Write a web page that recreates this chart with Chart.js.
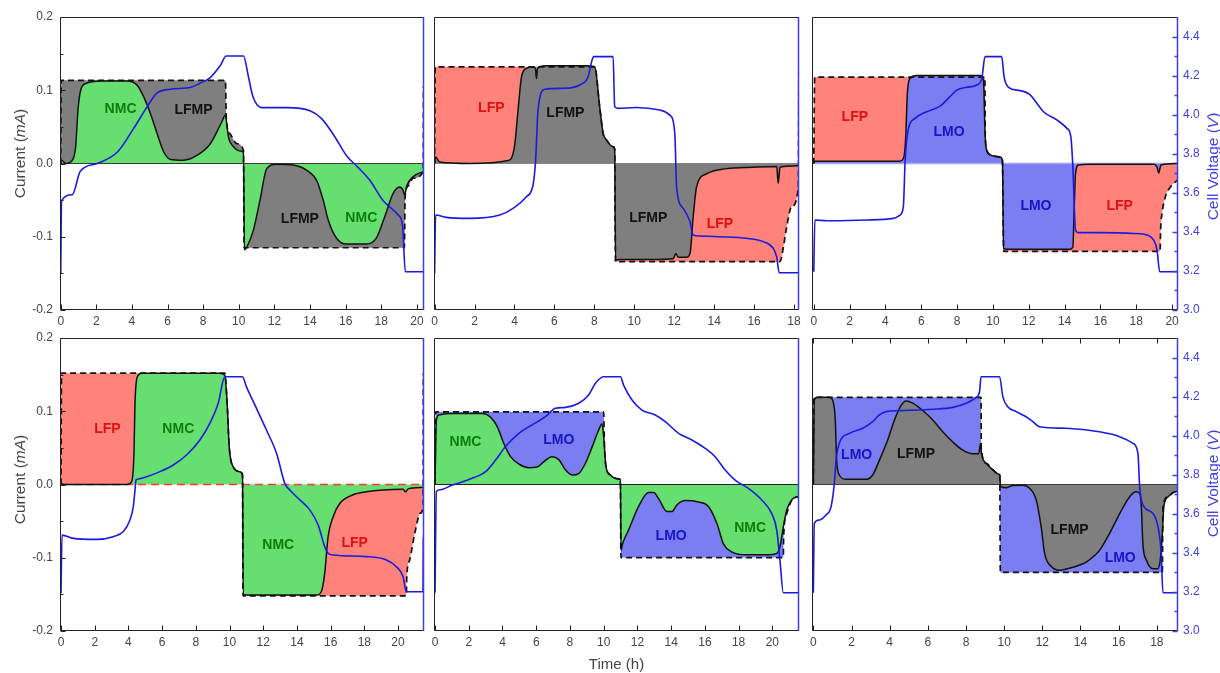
<!DOCTYPE html>
<html>
<head>
<meta charset="utf-8">
<script src="https://cdn.jsdelivr.net/npm/chart.js@4.4.1/dist/chart.umd.min.js"></script>
<style>
  html, body { margin: 0; padding: 0; background: #fff; }
  #fig { position: relative; width: 1220px; height: 673px; overflow: hidden; }
  #fig canvas { position: absolute; }
</style>
</head>
<body>
<div id="fig"></div>
<script>
/* ---- axis ticks ---- */
const currentTicks = [-0.2, -0.1, 0, 0.1, 0.2];
const currentLabels = ['-0.2', '-0.1', '0.0', '0.1', '0.2'];
const currentMinor = [-0.15, -0.05, 0.05, 0.15];
const voltTicks = [3.0, 3.2, 3.4, 3.6, 3.8, 4.0, 4.2, 4.4];
const voltLabels = ['3.0', '3.2', '3.4', '3.6', '3.8', '4.0', '4.2', '4.4'];
const voltMinor = [3.1, 3.3, 3.5, 3.7, 3.9, 4.1, 4.3];
const xTicks20 = [0, 2, 4, 6, 8, 10, 12, 14, 16, 18, 20];
const xTicks18 = [0, 2, 4, 6, 8, 10, 12, 14, 16, 18];

/* ---- panel 1: NMC + LFMP ---- */
const p1CompT = [0,0.05,0.3,0.6,0.84,0.97,1.12,1.4,2.24,3.73,4.29,4.66,5.04,5.41,5.78,6.16,6.9,7.65,8.4,9.05,9.24,9.42,9.7,10.07,10.26,10.32,10.45,10.82,11.19,11.57,12.13,13.06,13.8,14.37,14.74,15.02,15.49,16.04,17.16,17.72,18.19,18.66,19.03,19.22,19.31,19.44,19.78,20.37];
const p1Comp  = [0,0.004,0.0,0.003,0.023,0.073,0.1,0.109,0.1127,0.1127,0.107,0.091,0.068,0.041,0.016,0.0055,0.0045,0.011,0.027,0.057,0.066,0.036,0.023,0.017,0.015,-0.118,-0.114,-0.091,-0.05,-0.007,-0.001,-0.002,-0.009,-0.023,-0.05,-0.077,-0.102,-0.11,-0.11,-0.102,-0.073,-0.041,-0.032,-0.036,-0.043,-0.03,-0.018,-0.011];
const p1TotT  = [0,0.03,9.25,9.3,9.5,9.9,10.26,10.3,19.3,19.34,19.5,19.8,20.36,20.37];
const p1Tot   = [0,0.1136,0.1136,0.06,0.041,0.027,0.018,-0.115,-0.115,-0.045,-0.031,-0.02,-0.011,0.105];
const p1VoltT = [0,0.05,0.65,1.1,2.05,3.2,4.1,4.85,5.4,6.15,7.3,7.8,8.4,8.95,9.3,10.26,10.55,10.8,11.3,12.7,14.0,14.65,15.3,16.05,16.7,17.35,18.1,18.95,19.2,19.35,20.4];
const p1Volt  = [3.19,3.56,3.59,3.71,3.75,3.81,3.93,4.04,4.11,4.13,4.14,4.16,4.19,4.25,4.30,4.30,4.19,4.09,4.036,4.036,4.02,3.98,3.90,3.79,3.73,3.665,3.56,3.486,3.43,3.196,3.196];

/* ---- panel 2: LFMP + LFP ---- */
const p2CompT = [0,0.05,0.25,1.75,3.68,4.0,4.18,4.35,4.6,4.93,5.05,5.1,5.15,5.25,5.6,7.6,8.02,8.27,8.44,8.61,8.94,9.02,9.06,9.28,10.95,11.95,12.08,12.2,12.62,12.79,12.95,13.12,13.62,14.62,15.96,17.13,17.21,17.3,18.24];
const p2Comp  = [0,0.009,0.002,0.0,0.004,0.023,0.073,0.118,0.13,0.132,0.13,0.116,0.129,0.132,0.1335,0.1335,0.132,0.077,0.041,0.032,0.023,0.02,-0.132,-0.131,-0.131,-0.13,-0.123,-0.128,-0.128,-0.123,-0.073,-0.032,-0.014,-0.007,-0.005,-0.004,-0.027,-0.005,-0.003];
const p2TotT  = [0,0.03,8.02,8.27,8.44,8.61,8.94,9.02,9.06,17.3,17.47,17.63,17.88,18.22,18.24];
const p2Tot   = [0,0.132,0.132,0.077,0.041,0.032,0.023,0.02,-0.134,-0.134,-0.114,-0.087,-0.059,-0.032,0.128];
const p2VoltT = [0,0.05,0.58,1.75,3.26,3.93,4.6,4.93,5.06,5.18,5.52,6.43,7.27,7.69,7.86,7.97,8.94,9.02,9.19,10.11,11.28,11.78,12.03,12.12,12.45,12.79,12.95,13.29,14.29,15.63,16.46,16.96,17.13,17.26,18.25];
const p2Volt  = [3.188,3.486,3.474,3.469,3.486,3.52,3.58,3.64,3.768,4.024,4.13,4.135,4.152,4.195,4.27,4.297,4.297,4.041,4.032,4.037,4.024,3.998,3.904,3.63,3.52,3.452,3.384,3.379,3.375,3.367,3.35,3.316,3.273,3.191,3.191];

/* ---- panel 3: LMO + LFP ---- */
const p3CompT = [0,0.05,4.81,5.03,5.14,5.22,5.37,5.74,9.28,9.47,9.56,9.65,9.93,10.4,10.53,10.59,10.77,14.31,14.46,14.54,14.61,14.78,15.43,18.97,19.16,19.25,19.38,20.33];
const p3Comp  = [0,0.003,0.003,0.009,0.041,0.095,0.116,0.12,0.12,0.114,0.041,0.018,0.011,0.009,0.0045,-0.116,-0.117,-0.117,-0.114,-0.059,-0.014,-0.002,-0.001,-0.001,-0.005,-0.013,-0.002,0];
const p3TotT  = [0,0.05,9.55,9.57,9.65,9.93,10.4,10.53,10.6,19.33,19.36,19.44,19.63,19.91,20.33];
const p3Tot   = [0,0.118,0.118,0.04,0.018,0.011,0.009,0.0045,-0.12,-0.12,-0.09,-0.068,-0.045,-0.032,-0.022];
const p3VoltT = [0,0.06,0.71,2.95,4.44,4.81,5.0,5.1,5.27,5.65,6.3,7.05,7.6,7.98,8.54,9.1,9.38,9.56,10.49,10.62,10.87,11.52,12.08,12.45,12.82,13.57,14.13,14.35,14.46,14.61,14.78,15.99,17.86,18.6,18.97,19.16,19.31,20.35];
const p3Volt  = [3.196,3.461,3.457,3.461,3.469,3.486,3.529,3.768,3.922,3.981,4.015,4.044,4.092,4.126,4.14,4.152,4.186,4.297,4.297,4.195,4.14,4.123,4.101,4.058,4.015,3.973,3.93,3.887,3.734,3.41,3.396,3.396,3.392,3.384,3.358,3.307,3.196,3.196];

/* ---- panel 4: NMC + LFP ---- */
const p4CompT = [0,0.14,3.89,4.19,4.33,4.39,4.53,4.78,9.43,9.72,9.86,9.98,10.22,10.61,10.77,10.81,11.21,15.16,15.45,15.65,15.85,16.15,16.54,17.33,18.12,19.11,20.3,20.45,20.6,21.5];
const p4Comp  = [0.002,0,0,0.004,0.043,0.111,0.147,0.152,0.152,0.149,0.111,0.052,0.024,0.0175,0.013,-0.151,-0.151,-0.151,-0.146,-0.121,-0.071,-0.044,-0.026,-0.014,-0.01,-0.0075,-0.0066,-0.01,-0.006,-0.004];
const p4TotT  = [0,0.03,9.72,9.86,9.98,10.22,10.61,10.77,10.8,20.49,20.52,20.69,20.99,21.33,21.49,21.5];
const p4Tot   = [0,0.152,0.152,0.111,0.052,0.024,0.0175,0.013,-0.152,-0.152,-0.125,-0.103,-0.067,-0.039,-0.03,0.152];
const p4VoltT = [0,0.06,0.73,2.11,3.1,3.7,4.09,4.29,4.39,4.45,4.58,5.08,5.87,6.66,7.45,8.24,8.83,9.33,9.72,10.77,11.0,11.6,12.19,12.79,13.28,13.58,14.17,14.76,15.26,15.65,15.85,16.15,18.12,19.31,19.9,20.3,20.49,21.48,21.5];
const p4Volt  = [3.193,3.491,3.474,3.469,3.483,3.509,3.568,3.637,3.722,3.773,3.778,3.79,3.816,3.85,3.901,3.978,4.063,4.166,4.302,4.302,4.251,4.14,4.029,3.91,3.756,3.722,3.671,3.62,3.543,3.432,3.398,3.389,3.381,3.364,3.329,3.278,3.201,3.201,3.48];

/* ---- panel 5: NMC + LMO ---- */
const p5CompT = [0,0.08,0.24,1.03,2.8,3.29,3.69,4.08,4.48,4.97,5.56,6.06,6.45,6.94,7.34,7.73,8.13,8.52,8.92,9.31,9.7,9.9,10.0,10.14,10.39,10.79,10.99,11.03,11.12,11.48,12.07,12.66,12.96,13.25,13.75,14.04,14.34,14.83,15.62,16.21,16.71,17.1,17.59,18.38,19.76,20.26,20.45,20.65,20.85,21.14,21.58];
const p5Comp  = [0,0.088,0.095,0.097,0.097,0.092,0.079,0.056,0.038,0.028,0.023,0.024,0.031,0.038,0.034,0.02,0.013,0.015,0.029,0.051,0.074,0.083,0.065,0.024,0.013,0.008,0.007,-0.09,-0.081,-0.062,-0.03,-0.011,-0.011,-0.019,-0.037,-0.037,-0.028,-0.022,-0.024,-0.03,-0.053,-0.081,-0.092,-0.096,-0.096,-0.094,-0.085,-0.058,-0.035,-0.021,-0.016];
const p5TotT  = [0,0.04,10.0,10.05,10.14,10.39,10.79,10.99,11.02,20.65,20.67,20.85,21.14,21.58];
const p5Tot   = [0,0.0992,0.0992,0.05,0.024,0.013,0.008,0.007,-0.0997,-0.0997,-0.07,-0.04,-0.022,-0.016];
const p5VoltT = [0,0.08,0.24,1.03,2.01,3.0,3.59,4.18,4.97,5.76,6.55,7.14,7.73,8.52,9.11,9.51,10.0,10.99,11.18,11.68,12.27,13.06,13.65,14.44,15.23,16.02,16.61,17.2,17.79,18.58,19.37,19.96,20.26,20.45,20.65,21.58];
const p5Volt  = [3.196,3.713,3.722,3.747,3.776,3.816,3.875,3.944,4.012,4.055,4.097,4.14,4.145,4.166,4.208,4.268,4.302,4.302,4.259,4.183,4.131,4.106,4.072,4.012,3.978,3.935,3.892,3.824,3.773,3.73,3.671,3.602,3.517,3.363,3.196,3.196];

/* ---- panel 6: LFMP + LMO ---- */
const p6CompT = [0,0.05,0.23,0.84,1.01,1.15,1.22,1.36,1.71,2.76,3.11,3.46,3.9,4.25,4.6,4.86,5.21,5.73,6.26,6.78,7.31,7.83,8.36,8.67,8.76,8.81,9.06,9.41,9.72,9.77,9.81,10.1,10.45,10.98,11.33,11.68,11.94,12.12,12.47,12.9,13.6,14.3,14.65,15.0,15.52,16.05,16.57,16.92,17.1,17.19,17.27,17.45,17.8,18.06,18.18,18.29,18.37,18.58,18.85,19.11];
const p6Comp  = [0,0.115,0.119,0.119,0.115,0.088,0.033,0.013,0.007,0.007,0.013,0.033,0.061,0.088,0.108,0.114,0.111,0.101,0.088,0.072,0.058,0.047,0.042,0.042,0.056,0.042,0.029,0.02,0.014,0.013,-0.003,-0.0045,-0.0014,-0.001,-0.005,-0.021,-0.058,-0.094,-0.112,-0.117,-0.113,-0.106,-0.099,-0.09,-0.067,-0.04,-0.017,-0.01,-0.012,-0.03,-0.081,-0.103,-0.115,-0.115,-0.103,-0.067,-0.03,-0.017,-0.011,-0.009];
const p6TotT  = [0,0.03,8.79,8.8,9.06,9.41,9.72,9.77,9.8,18.29,18.32,18.58,18.85,19.11];
const p6Tot   = [0,0.119,0.119,0.05,0.029,0.02,0.014,0.013,-0.12,-0.12,-0.03,-0.017,-0.011,-0.009];
const p6VoltT = [0,0.05,0.31,0.66,0.93,1.1,1.19,1.36,1.89,2.59,3.11,3.46,3.81,4.51,6.26,7.31,8.01,8.53,8.71,8.79,9.76,9.93,10.19,10.63,11.15,11.5,11.85,13.25,15.0,16.05,16.75,17.01,17.1,17.27,17.8,18.06,18.23,18.32,19.11];
const p6Volt  = [3.196,3.551,3.568,3.594,3.637,3.756,3.875,3.961,4.012,4.038,4.072,4.106,4.123,4.128,4.135,4.145,4.166,4.196,4.225,4.302,4.302,4.2,4.148,4.123,4.097,4.072,4.046,4.038,4.02,3.995,3.961,3.91,3.739,3.645,3.602,3.534,3.398,3.196,3.196];

/* ---- look ---- */
const FONT = '"Liberation Sans", Arial, Helvetica, sans-serif';
const INK = '#444', FRAME = '#222', VLINE = '#1b1be0', VAXIS = '#3d3deb';
const GREEN = '#66df70', GREY = '#7f7f7f', RED = '#ff837a', LAV = '#7b7ef1';
const labelColor = { NMC: '#0b7d0b', LFMP: '#111', LFP: '#dd1111', LMO: '#1616c6' };

const COLS = [[60, 424], [434, 799], [812, 1178]];
const ROWS = [[17, 310], [338, 631]];

const panels = [
  { col: 0, row: 0, xMin: -0.04, xMax: 20.4, xTicks: xTicks20, comp: [p1CompT, p1Comp], tot: [p1TotT, p1Tot], volt: [p1VoltT, p1Volt],
    lower: GREEN, upper: GREY, zero: { color: '#3a3a3a', width: 1, dash: [] },
    labels: [{ t: 'NMC', x: 3.36, y: 0.0736 }, { t: 'LFMP', x: 7.46, y: 0.073 }, { t: 'LFMP', x: 13.43, y: -0.076 }, { t: 'NMC', x: 16.88, y: -0.074 }] },
  { col: 1, row: 0, xMin: -0.03, xMax: 18.25, xTicks: xTicks18, comp: [p2CompT, p2Comp], tot: [p2TotT, p2Tot], volt: [p2VoltT, p2Volt],
    lower: GREY, upper: RED, zero: { color: 'rgba(110,110,110,0.7)', width: 1, dash: [] },
    labels: [{ t: 'LFP', x: 2.84, y: 0.075 }, { t: 'LFMP', x: 6.55, y: 0.069 }, { t: 'LFMP', x: 10.7, y: -0.075 }, { t: 'LFP', x: 14.29, y: -0.083 }] },
  { col: 2, row: 0, xMin: -0.1, xMax: 20.33, xTicks: xTicks20, comp: [p3CompT, p3Comp], tot: [p3TotT, p3Tot], volt: [p3VoltT, p3Volt],
    lower: LAV, upper: RED, zero: { color: '#a3a5f6', width: 1.5, dash: [] },
    labels: [{ t: 'LFP', x: 2.29, y: 0.063 }, { t: 'LMO', x: 7.55, y: 0.043 }, { t: 'LMO', x: 12.4, y: -0.058 }, { t: 'LFP', x: 17.07, y: -0.058 }] },
  { col: 0, row: 1, xMin: -0.06, xMax: 21.54, xTicks: xTicks20, comp: [p4CompT, p4Comp], tot: [p4TotT, p4Tot], volt: [p4VoltT, p4Volt],
    lower: GREEN, upper: RED, zero: { color: '#ff3b30', width: 1.5, dash: [8, 5] },
    labels: [{ t: 'LFP', x: 2.75, y: 0.076 }, { t: 'NMC', x: 6.96, y: 0.076 }, { t: 'NMC', x: 12.89, y: -0.083 }, { t: 'LFP', x: 17.43, y: -0.08 }] },
  { col: 1, row: 1, xMin: -0.06, xMax: 21.58, xTicks: xTicks20, comp: [p5CompT, p5Comp], tot: [p5TotT, p5Tot], volt: [p5VoltT, p5Volt],
    lower: GREEN, upper: LAV, zero: { color: '#222', width: 1, dash: [] }, timeTitle: true,
    labels: [{ t: 'NMC', x: 1.81, y: 0.058 }, { t: 'LMO', x: 7.34, y: 0.06 }, { t: 'LMO', x: 14.0, y: -0.071 }, { t: 'NMC', x: 18.68, y: -0.06 }] },
  { col: 2, row: 1, xMin: -0.07, xMax: 19.11, xTicks: xTicks18, comp: [p6CompT, p6Comp], tot: [p6TotT, p6Tot], volt: [p6VoltT, p6Volt],
    lower: GREY, upper: LAV, zero: { color: '#3a3a3a', width: 1, dash: [] }, topTicks: true,
    labels: [{ t: 'LMO', x: 2.27, y: 0.04 }, { t: 'LFMP', x: 5.38, y: 0.041 }, { t: 'LFMP', x: 13.43, y: -0.062 }, { t: 'LMO', x: 16.08, y: -0.101 }] }
];

function pts(t, v) { return t.map((x, i) => ({ x: x, y: v[i] })); }

function vText(ctx, cx, cy, parts, color) {
  ctx.save();
  ctx.translate(cx, cy); ctx.rotate(-Math.PI / 2);
  ctx.fillStyle = color; ctx.textBaseline = 'middle'; ctx.textAlign = 'left';
  let w = 0;
  parts.forEach(([s, f]) => { ctx.font = f; w += ctx.measureText(s).width; });
  let xx = -w / 2;
  parts.forEach(([s, f]) => { ctx.font = f; ctx.fillText(s, xx, 0); xx += ctx.measureText(s).width; });
  ctx.restore();
}

// frame, inward ticks, phase labels and axis titles
const figPlugin = {
  id: 'fig',
  afterDatasetsDraw(chart, args, o) {
    const { ctx, chartArea: a, scales: { x, y, v } } = chart;
    ctx.save();
    ctx.font = 'bold 14px ' + FONT; ctx.textAlign = 'center'; ctx.textBaseline = 'middle';
    o.labels.forEach(l => { ctx.fillStyle = labelColor[l.t]; ctx.fillText(l.t, x.getPixelForValue(l.x), y.getPixelForValue(l.y)); });

    const L = Math.round(a.left) + 0.5, R = Math.round(a.right) - 0.5, T = Math.round(a.top) + 0.5, B = Math.round(a.bottom) - 0.5;
    ctx.lineWidth = 1; ctx.strokeStyle = FRAME;
    ctx.beginPath();
    o.xTicks.forEach(t => {
      const px = Math.round(x.getPixelForValue(t)) + 0.5;
      ctx.moveTo(px, B); ctx.lineTo(px, B - 5);
      if (o.topTicks) { ctx.moveTo(px, T); ctx.lineTo(px, T + 5); }
    });
    if (o.leftAxis) {
      currentTicks.forEach(t => { const py = Math.round(y.getPixelForValue(t)) + 0.5; ctx.moveTo(L, py); ctx.lineTo(L + 5, py); });
      currentMinor.forEach(t => { const py = Math.round(y.getPixelForValue(t)) + 0.5; ctx.moveTo(L, py); ctx.lineTo(L + 3, py); });
    }
    ctx.moveTo(R, T); ctx.lineTo(L, T); ctx.lineTo(L, B); ctx.lineTo(R, B);
    ctx.stroke();

    ctx.strokeStyle = VAXIS; ctx.lineWidth = 1.5;
    ctx.beginPath();
    ctx.moveTo(R, a.top); ctx.lineTo(R, a.bottom);
    if (o.rightAxis) {
      voltTicks.forEach(t => { const py = Math.round(v.getPixelForValue(t)) + 0.5; ctx.moveTo(R, py); ctx.lineTo(R - 5, py); });
      voltMinor.forEach(t => { const py = Math.round(v.getPixelForValue(t)) + 0.5; ctx.moveTo(R, py); ctx.lineTo(R - 3, py); });
    }
    ctx.stroke();

    const midY = (a.top + a.bottom) / 2;
    if (o.leftAxis) {
      vText(ctx, a.left - 39, midY + o.curDy, [['Current (', '15.5px ' + FONT], ['mA', 'italic 15.5px ' + FONT], [')', '15.5px ' + FONT]], INK);
    }
    if (o.rightAxis) {
      vText(ctx, a.right + 36, midY + o.voltDy, [['Cell Voltage (', '15.5px ' + FONT], ['V', 'italic 15.5px ' + FONT], [')', '15.5px ' + FONT]], VAXIS);
    }
    if (o.timeTitle) {
      ctx.font = '15px ' + FONT; ctx.fillStyle = INK; ctx.textAlign = 'center'; ctx.textBaseline = 'middle';
      ctx.fillText('Time (h)', (a.left + a.right) / 2, a.bottom + 34);
    }
    ctx.restore();
  }
};

const fig = document.getElementById('fig');

panels.forEach(p => {
  const [x0, x1] = COLS[p.col], [y0, y1] = ROWS[p.row];
  const leftW = p.col === 0 ? 60 : 12, rightW = p.col === 2 ? 42 : 12;
  const topPad = 16, botH = p.row === 0 ? 20 : 42;
  const W = x1 - x0 + leftW + rightW, H = y1 - y0 + topPad + botH;
  const cv = document.createElement('canvas');
  cv.width = W; cv.height = H;
  cv.style.left = (x0 - leftW) + 'px'; cv.style.top = (y0 - topPad) + 'px';
  cv.style.width = W + 'px'; cv.style.height = H + 'px';
  fig.appendChild(cv);

  const leftAxis = p.col === 0, rightAxis = p.col === 2;
  const line = { pointRadius: 0, pointHitRadius: 0, cubicInterpolationMode: 'monotone' };

  new Chart(cv, {
    type: 'line',
    data: {
      datasets: [
        { ...line, data: pts(p.volt[0], p.volt[1]), yAxisID: 'v', borderColor: VLINE, borderWidth: 1.6, fill: false },
        { ...line, data: pts(p.comp[0], p.comp[1]), yAxisID: 'y', borderColor: '#111', borderWidth: 1.5, fill: 'origin', backgroundColor: p.lower },
        { ...line, data: pts(p.tot[0], p.tot[1]), yAxisID: 'y', borderColor: '#111', borderWidth: 1.7, borderDash: [6, 4], fill: 1, backgroundColor: p.upper },
        { pointRadius: 0, data: pts([p.xMin, p.xMax], [0, 0]), yAxisID: 'y', borderColor: p.zero.color, borderWidth: p.zero.width, borderDash: p.zero.dash, fill: false }
      ]
    },
    options: {
      responsive: false, animation: false, devicePixelRatio: 1, events: [],
      layout: { padding: { top: topPad, left: 0, right: 0, bottom: 0 } },
      plugins: {
        legend: { display: false }, tooltip: { enabled: false },
        filler: { drawTime: 'beforeDatasetsDraw' },
        fig: { labels: p.labels, xTicks: p.xTicks, topTicks: !!p.topTicks, leftAxis, rightAxis, timeTitle: !!p.timeTitle,
               curDy: p.row === 0 ? -10 : -5, voltDy: p.row === 0 ? 3 : -1 }
      },
      scales: {
        x: {
          type: 'linear', min: p.xMin, max: p.xMax,
          afterBuildTicks: s => { s.ticks = p.xTicks.map(v => ({ value: v })); },
          afterFit: s => { s.height = botH; },
          grid: { display: false, drawTicks: false }, border: { display: false },
          ticks: { autoSkip: false, maxRotation: 0, padding: 4, color: INK, font: { family: FONT, size: 12 }, callback: v => String(v) }
        },
        y: {
          position: 'left', min: -0.2, max: 0.2,
          afterBuildTicks: s => { s.ticks = currentTicks.map(v => ({ value: v })); },
          afterFit: s => { s.width = leftW; },
          grid: { display: false, drawTicks: false }, border: { display: false },
          ticks: { display: leftAxis, padding: 7, color: INK, font: { family: FONT, size: 12 }, callback: (v, i) => currentLabels[i] }
        },
        v: {
          position: 'right', min: 3.0, max: 4.5,
          afterBuildTicks: s => { s.ticks = voltTicks.map(v => ({ value: v })); },
          afterFit: s => { s.width = rightW; },
          grid: { display: false, drawTicks: false }, border: { display: false },
          ticks: { display: rightAxis, padding: 5, color: VAXIS, font: { family: FONT, size: 12 }, callback: (v, i) => voltLabels[i] }
        }
      }
    },
    plugins: [figPlugin]
  });
});
</script>
</body>
</html>
